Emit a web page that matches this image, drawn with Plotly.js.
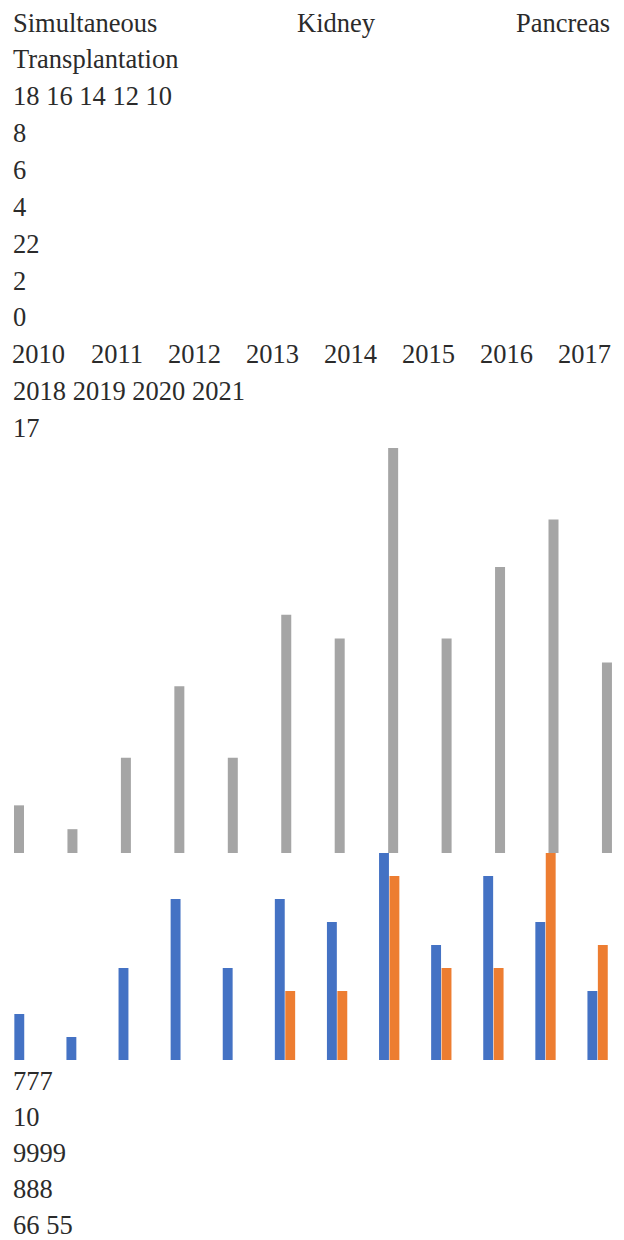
<!DOCTYPE html>
<html>
<head>
<meta charset="utf-8">
<script src="https://cdn.plot.ly/plotly-3.0.1.min.js"></script>
<style>
  html, body { margin: 0; padding: 0; background: #ffffff; }
  #chart { width: 624px; height: 1240px; }
</style>
</head>
<body>
<div id="chart"></div>
<script>
// ---- data ----
const years = [2010, 2011, 2012, 2013, 2014, 2015, 2016, 2017, 2018, 2019, 2020, 2021];
const totalTransplants = [2, 1, 4, 7, 4, 10, 9, 17, 9, 12, 14, 8];
const seriesBlue = [2, 1, 4, 7, 4, 7, 6, 9, 5, 8, 6, 3];
const seriesOrange = [0, 0, 0, 0, 0, 3, 3, 8, 4, 4, 9, 5];

// ---- text as it appears in the reference ----
const titleWords = ["Simultaneous", "Kidney", "Pancreas"];
const titleLine2 = "Transplantation";
const tickLines = ["18 16 14 12 10", "8", "6", "4", "22", "2", "0"];
const yearLine1 = ["2010", "2011", "2012", "2013", "2014", "2015", "2016", "2017"];
const yearLine2 = "2018 2019 2020 2021";
const peakLabel = "17";
const bottomLines = ["777", "10", "9999", "888", "66 55"];

// ---- layout helpers ----
const W = 624, H = 1240;
const FONT = { family: "'Liberation Serif', 'Times New Roman', Times, serif", size: 26.5, color: "#2b2b2b" };
const px = v => v / W;
const py = v => 1 - v / H;
const annotations = [];
function addText(text, xPos, baseline, anchor) {
  annotations.push({
    text: text, xref: "paper", yref: "paper",
    x: px(xPos), y: py(baseline - 9),
    xanchor: anchor || "left", yanchor: "middle",
    showarrow: false, font: FONT, borderpad: 0
  });
}

// first line: justified words
addText(titleWords[0], 12, 31.5, "left");
addText(titleWords[1], 336, 31.5, "center");
addText(titleWords[2], 611, 31.5, "right");

// block of top lines
const topLines = [titleLine2].concat(tickLines);
topLines.forEach((t, i) => addText(t, 12, 31.5 + 36.86 * (i + 1)));
// justified year line (first word left at 12, last word right at 611)
yearLine1.forEach((t, i) => {
  const cx = 12 + 26.5 + i * (611 - 26.5 - 12 - 26.5) / 7;
  addText(t, cx, 31.5 + 36.86 * 9, "center");
});
addText(yearLine2, 12, 31.5 + 36.86 * 10);
addText(peakLabel, 12, 31.5 + 36.86 * 11);

// bottom lines
bottomLines.forEach((t, i) => addText(t, 12, 1090 + 36 * i));

// ---- traces ----
const traces = [
  {
    type: "bar", x: years, y: totalTransplants, xaxis: "x", yaxis: "y",
    marker: { color: "#a5a5a5", line: { width: 0 } }, hoverinfo: "skip", showlegend: false
  },
  {
    type: "bar", x: years, y: seriesBlue, xaxis: "x2", yaxis: "y2", offsetgroup: "a",
    marker: { color: "#4472c4", line: { width: 0 } }, hoverinfo: "skip", showlegend: false
  },
  {
    type: "bar", x: years, y: seriesOrange, xaxis: "x2", yaxis: "y2", offsetgroup: "b",
    marker: { color: "#ed7d31", line: { width: 0 } }, hoverinfo: "skip", showlegend: false
  }
];

const hiddenAxis = { showgrid: false, zeroline: false, showticklabels: false, ticks: "", showline: false, fixedrange: true };

// gray chart: category centres at 19 + 53.45*i px, bottom 853, 17 -> 448
const g0 = -19 / 53.45, g1 = g0 + W / 53.45;
// blue/orange chart: pair centres at 24.5 + 52.1*i px, bottom 1060, 9 -> 853
const b0 = -24.5 / 52.1, b1 = b0 + W / 52.1;

const layout = {
  width: W, height: H,
  margin: { l: 0, r: 0, t: 0, b: 0, pad: 0 },
  paper_bgcolor: "#ffffff", plot_bgcolor: "rgba(0,0,0,0)",
  showlegend: false,
  barmode: "group",
  bargap: 0.6, bargroupgap: 0.05,
  font: FONT,
  xaxis: Object.assign({}, hiddenAxis, { domain: [0, 1], range: [2010 + g0, 2010 + g1], anchor: "y" }),
  yaxis: Object.assign({}, hiddenAxis, { domain: [1 - 853 / H, 1 - 448 / H], range: [0, 17], anchor: "x" }),
  xaxis2: Object.assign({}, hiddenAxis, { domain: [0, 1], range: [2010 + b0, 2010 + b1], anchor: "y2" }),
  yaxis2: Object.assign({}, hiddenAxis, { domain: [1 - 1060 / H, 1 - 853 / H], range: [0, 9], anchor: "x2" }),
  annotations: annotations
};

// gray bars are narrower in their own slot: width in x units
traces[0].width = years.map(() => 10 / 53.45);

Plotly.newPlot("chart", traces, layout, { staticPlot: true, displayModeBar: false });
</script>
</body>
</html>
